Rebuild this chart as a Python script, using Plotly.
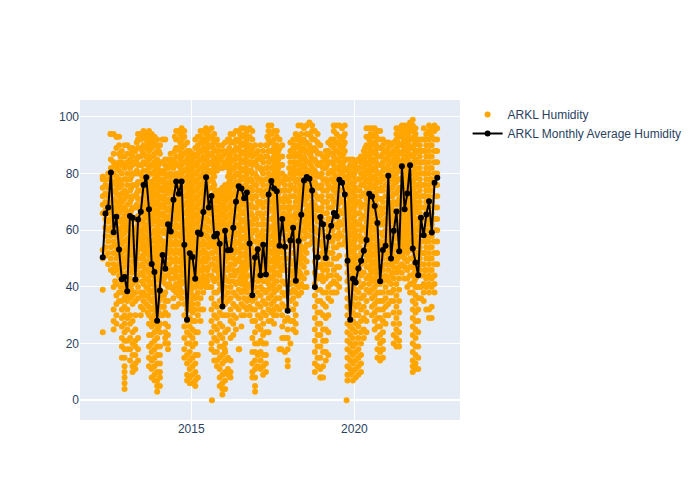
import plotly.graph_objects as go
import pandas as pd

monthly_avg = [50.5,65.9,68,80.4,59.3,64.8,53.2,42.7,43.5,38.5,65,64.4,42.6,63.8,66.5,76,78.7,67.4,48.1,45.3,28.1,38.7,51.3,46.4,62.1,59.6,70.8,77.2,72.9,77.2,54.9,28.4,51.9,50.6,42.9,59.2,58.7,66.4,78.7,68,72.1,57.8,58.8,55.2,33.1,59.8,52.9,53,60.9,70.1,75.5,74.7,71.3,73.3,55.3,37.1,50.4,53.3,44.1,54.9,44.4,72.6,77.4,74.7,73.8,54.5,64,54.2,31.6,56.4,60.9,42.2,56.2,65.5,77.6,78.8,78.2,74,40,50.5,64.7,62.1,50.2,57.6,61.6,66.1,64.9,77.8,76.8,72.6,49.2,28.4,42.9,41.6,46.5,49.2,52.8,56.6,72.9,71.9,68.6,62.6,42,53,54.5,79.2,50,59.8,66.6,52.6,82.6,67.4,73,82.9,53.6,48.6,44.1,64.4,58.2,65.6,70.2,59.2,76.8,78.5]
monthly_dates = pd.date_range("2012-04-15", periods=len(monthly_avg), freq="30.44D")

obs_dates = ["2012-04-15","2012-06-15","2012-08-15","2012-10-15","2012-12-15","2013-02-15","2013-04-15","2013-06-15","2013-08-15","2013-10-15","2013-12-15","2014-02-15","2014-04-15","2014-06-15","2014-08-15","2014-10-15","2014-12-15","2015-02-15","2015-04-15","2015-06-15","2015-08-15","2015-10-15","2015-12-15","2016-02-15","2016-04-15","2016-06-15","2016-08-15","2016-10-15","2016-12-15","2017-02-15","2017-04-15","2017-06-15","2017-08-15","2017-10-15","2017-12-15","2018-02-15","2018-04-15","2018-06-15","2018-08-15","2018-10-15","2018-12-15","2019-02-15","2019-04-15","2019-06-15","2019-08-15","2019-10-15","2019-12-15","2020-02-15","2020-04-15","2020-06-15","2020-08-15","2020-10-15","2020-12-15","2021-02-15","2021-04-15","2021-06-15","2021-08-15","2021-10-15","2021-12-15","2022-02-15","2022-04-15","2022-06-15"]
obs_values = [
[24,39,50,53,66,69,72,75,78,79],
[48,52,56,60,63,66,69,72,75,78,80],
[25,28,32,40,45,48,52,56,59,62,65,68,71,74,77,80,84,87,94],
[35,38,44,48,51,54,57,60,63,66,69,72,75,78,81,84,87,90,93],
[4,6,8,10,12,15,18,21,24,27,30,33,36,40,44,47,50,53,56,59,62,65,68,71,74,78,82,86,90],
[14,18,22,27,30,36,40,43,47,52,55,58,62,66,70,74,78,82,85,89],
[11,13,16,19,21,25,30,35,38,42,46,48,52,56,60,64,68,72,76,80,84,88],
[30,33,38,45,50,54,57,60,63,66,68,71,74,77,80,83,86,89,92,94],
[34,37,40,43,46,49,52,54,57,60,62,65,68,70,73,76,78,81,84,86,89,92,94],
[8,11,14,17,20,23,26,29,32,35,38,41,44,47,50,53,56,59,62,65,68,71,74,77,80,83,86,89,92,94],
[3,5,7,10,13,16,19,22,25,28,31,34,37,40,43,46,49,52,55,58,61,64,67,70,73,76,79,82,85,88,90,92],
[30,33,38,42,46,50,53,56,59,62,65,68,71,74,77,80,84,92],
[18,20,23,26,30,35,40,44,48,52,55,58,61,64,67,70,73,76,79,82,85],
[33,36,39,43,46,49,52,55,58,61,64,67,70,73,76,79,82,85],
[34,37,40,43,46,49,52,55,58,61,64,66,69,72,75,78,80,83,86,89,92,95],
[15,18,22,26,30,34,38,42,45,48,51,54,57,60,63,66,69,72,75,78,81,84,87,90,93,95],
[6,8,11,14,17,20,23,26,29,32,35,38,41,44,47,50,53,56,59,62,65,68,71,74,77,80,83,86,88],
[5,7,10,13,16,20,24,28,32,36,40,44,47,50,53,56,59,62,65,68,71,74,77,80,83,86,89,92],
[28,32,36,40,43,46,49,52,55,58,61,64,67,70,73,76,79,82,85,88,91,93,95],
[40,43,46,49,52,55,58,61,64,67,70,73,76,79,82,85,88,91,94,96],
[18,20,24,28,32,36,40,44,48,52,56,60,63,66,69,72,75,78,81,84,87,90,93,96],
[12,14,17,21,25,29,33,38,43,47,50,53,56,59,62,65,68,71,74,81,84,88,92],
[2,4,6,9,13,16,19,22,26,30,33,36,39,42,45,48,51,54,57,60,63,66,69,72,75,82,86,90],
[9,11,15,25,30,35,38,42,46,50,54,58,62,65,68,72,75,79,82,85,88,92],
[23,27,30,34,38,42,46,50,54,58,61,64,67,70,73,76,79,82,85,88,91,94],
[18,32,36,39,42,46,50,53,56,59,62,65,68,71,74,77,80,83,86,89,92,95],
[30,33,36,39,42,45,48,51,54,57,60,63,66,69,72,75,78,81,84,87,90,93,96],
[30,33,36,40,44,48,51,54,57,60,63,66,69,72,75,78,81,84,87,90,93,96],
[3,5,8,11,14,17,20,24,28,32,36,40,44,48,52,56,60,64,68,72,76,80,84,87,90],
[11,14,17,21,25,29,33,37,40,43,46,49,52,55,58,62,66,70,74,78,82,86,90],
[10,13,16,20,24,30,34,38,42,46,50,54,58,62,66,70,74,78,82,86,90],
[28,31,34,37,40,43,46,49,52,55,58,61,64,67,70,73,76,79,82,85,88,91,94,97],
[30,33,36,39,42,45,48,51,54,57,60,63,66,69,72,75,78,81,84,87,90,93,95],
[22,26,30,34,38,42,46,50,53,56,59,62,65,68,71,74,77,80,83,86,90],
[12,14,18,22,25,29,33,38,42,46,50,54,58,62,65,68,71,74,78],
[25,28,32,36,39,42,45,48,52,55,58,62,65,68,72,75,79,82,86,89,92],
[37,40,43,46,50,53,56,59,62,65,68,71,74,78,81,84,87,90,93,97],
[40,43,47,50,53,57,60,63,66,70,73,76,80,83,86,89,92,96],
[55,58,62,65,68,72,75,78,81,84,87,90,94,98],
[10,13,17,21,25,29,33,37,41,45,49,53,57,61,65,69,73,77,81,85,89,92,95],
[8,11,15,19,23,27,31,35,39,43,47,51,55,59,63,67,71,75,79,83,87,90],
[14,17,21,25,29,33,38,43,48,53,58,62,66,70,74,78,82,85,88],
[35,38,41,44,48,52,56,60,64,68,72,75,78,81,84,87,90,92],
[38,41,44,47,50,54,58,62,66,70,73,76,79,82,85,88,91,94,97],
[55,58,62,66,70,74,77,80,83,86,89,92,96],
[7,9,12,15,18,21,24,27,30,33,36,39,42,45,48,51,54,57,60,63,66,69,72,75,78,81,85],
[7,10,13,16,19,22,25,28,31,34,37,40,43,46,49,52,55,58,61,64,67,70,73,76,79,82,85],
[9,12,15,18,22,26,30,34,38,42,46,50,54,58,62,66,70,74,78,82,85],
[22,25,29,33,37,41,45,49,53,57,61,65,69,73,76,79,82,85,88],
[38,41,44,47,50,53,56,59,62,65,68,71,74,77,80,83,86,89,92,96],
[25,28,31,34,37,40,43,46,49,52,55,58,61,64,67,70,73,76,79,82,85,88,91,94,96],
[14,17,20,23,26,29,32,35,38,41,44,47,50,53,56,59,62,65,68,71,74,77,80,83,86,89,92,95],
[27,30,33,36,40,44,48,52,56,60,64,68,72,76,79,82,85,88,91],
[35,38,41,44,48,52,56,60,64,68,72,75,78,81,84,87,90],
[19,22,25,29,33,37,41,45,49,53,57,61,65,69,73,77,80,83,86,89,92,94,96],
[45,48,51,54,57,60,63,66,69,72,75,78,81,84,87,90,93,95,97],
[40,43,46,49,52,55,58,61,64,67,70,73,76,79,82,85,88,91,94,97],
[10,12,14,17,20,23,26,29,32,35,38,41,44,47,50,53,56,59,62,65,68,71,74,77,80,83,86,89,92,95,97,99],
[11,15,19,24,28,32,36,40,44,48,52,56,60,64,68,72,76,80,84,88,92],
[35,38,41,44,48,52,56,60,64,68,72,76,80,84,88,92,96],
[29,32,38,41,44,48,52,56,60,64,68,72,76,80,84,88,92,95,97],
[38,41,44,48,52,56,60,64,68,72,76,80,84,88,92,95,97],
]
obs2_dates = ["2012-05-15","2012-07-15","2012-09-15","2012-11-15","2013-01-15","2013-03-15","2013-05-15","2013-07-15","2013-09-15","2013-11-15","2014-01-15","2014-03-15","2014-05-15","2014-07-15","2014-09-15","2014-11-15","2015-01-15","2015-03-15","2015-05-15","2015-07-15","2015-09-15","2015-11-15","2016-01-15","2016-03-15","2016-05-15","2016-07-15","2016-09-15","2016-11-15","2017-01-15","2017-03-15","2017-05-15","2017-07-15","2017-09-15","2017-11-15","2018-01-15","2018-03-15","2018-05-15","2018-07-15","2018-09-15","2018-11-15","2019-01-15","2019-03-15","2019-05-15","2019-07-15","2019-09-15","2019-11-15","2020-01-15","2020-03-15","2020-05-15","2020-07-15","2020-09-15","2020-11-15","2021-01-15","2021-03-15","2021-05-15","2021-07-15","2021-09-15","2021-11-15","2022-01-15","2022-03-15","2022-05-15","2022-07-15"]
obs2_values = [
[51,54,58,61,64,67,70,73,76,78],
[46,50,54,58,61,64,67,70,73,76,79,82,85,94],
[27,30,34,37,41,46,50,54,58,61,64,67,70,73,76,79,82,89,93],
[15,19,22,26,29,32,35,38,42,45,49,52,55,58,61,64,67,70,73,76,80,84,88],
[18,21,25,29,32,35,38,42,45,49,51,54,57,60,63,66,69,72,76,80,84,87,90],
[10,12,16,20,24,28,34,37,41,45,49,53,56,60,64,68,72,76,80,83,86,89],
[14,18,22,36,40,44,47,50,53,56,59,62,65,68,71,74,77,80,83,86,89,92,94],
[32,35,38,41,44,47,50,53,55,58,61,64,67,69,72,75,78,81,84,87,90,93,95],
[12,15,19,23,27,30,33,36,39,42,45,48,51,54,56,59,61,64,67,69,72,75,77,80,82,85,88,90,93,95],
[7,9,12,15,18,21,24,27,30,33,36,39,42,45,48,51,54,57,60,63,66,69,72,75,78,81,84,87,90,93],
[5,8,10,13,16,19,24,27,30,33,36,39,42,45,48,51,54,57,60,63,66,69,72,75,78,81,84,87,90],
[20,22,24,27,31,35,38,41,44,47,50,53,56,59,62,65,68,71,74,77,80,83,85,92],
[40,43,46,50,53,56,59,62,65,68,71,74,77,80,83,85,87],
[33,38,41,44,47,50,53,56,59,62,65,68,71,74,77,80,83,86,89,92,95],
[36,38,41,44,47,50,53,56,59,62,65,68,71,74,77,80,83,86,89,92,95,96],
[7,9,13,16,20,24,28,32,36,40,43,46,49,52,55,58,61,64,67,70,73,76,79,82,85,88,91],
[6,9,12,15,19,22,25,28,31,34,37,40,43,46,49,52,55,58,61,64,67,70,73,76,79,82,85,87],
[8,16,24,30,34,38,42,45,48,51,54,57,60,63,66,69,72,75,78,81,84,87,90,93],
[32,38,41,44,47,50,53,56,59,62,65,68,71,74,77,80,83,86,89,92,95],
[40,44,47,50,54,57,60,63,66,69,72,75,78,81,84,87,90,93,95],
[14,17,22,26,30,34,38,42,46,50,54,58,61,64,67,70,73,76,79,82,85,88,91,94],
[5,8,11,15,19,23,27,31,35,39,41,44,47,50,53,56,59,62,65,68,71,74,82,85,88],
[4,7,10,14,17,20,24,30,34,37,40,43,46,49,52,55,58,61,64,67,70,73,76,83,87,91],
[8,10,14,22,28,32,36,40,44,48,52,56,60,63,66,69,72,75,78,81,84,87,91,94],
[25,29,33,37,41,45,49,53,56,59,62,65,68,71,74,77,80,83,86,89,92,95],
[26,30,34,38,41,44,47,51,54,57,60,63,66,69,72,75,78,81,84,87,90,93,96],
[32,35,38,41,44,47,50,53,56,59,62,65,68,71,74,77,80,83,86,89,92,95],
[8,10,13,17,22,28,32,35,39,42,46,50,53,56,59,62,65,68,71,74,77,80,83,86,89,92,95],
[12,16,20,26,30,34,38,42,46,50,54,58,62,66,70,74,78,82,85,88],
[9,12,16,20,23,27,31,35,39,42,45,48,51,54,57,60,64,68,72,76,80,84,88],
[24,28,32,36,39,41,44,47,50,53,56,60,64,68,72,76,80,84,88,92,95,97],
[27,30,32,35,38,41,44,47,50,53,56,59,62,65,68,71,74,77,80,83,86,89,92,95],
[18,32,36,40,44,47,50,53,56,59,62,65,68,71,74,77,80,83,86,89,92],
[17,22,28,33,37,41,46,50,54,58,61,64,68,72,76,79],
[20,28,35,38,41,44,48,52,55,58,62,65,68,72,76,80,84,88,91],
[24,27,30,34,38,41,44,47,50,54,58,62,66,70,74,77,80,83,86,89,92,94],
[38,41,44,48,51,54,57,60,63,66,69,72,75,78,82,85,88,91,94,97],
[40,45,49,52,55,58,61,64,67,71,74,77,80,84,88,91,94,97],
[56,60,64,67,70,73,76,79,82,85,88,92,95,97],
[12,15,19,23,27,31,35,39,43,47,51,55,59,63,67,71,75,79,83,87,91,94],
[8,12,17,21,25,30,34,38,42,46,50,54,58,62,66,70,74,78,82,86],
[16,24,30,36,40,44,48,52,56,60,64,68,72,76,80,84,88,91],
[38,42,46,50,54,58,62,66,70,74,77,80,83,86,89,92,95,97],
[40,43,47,51,55,59,63,67,71,74,78,81,84,87,90,93,97],
[56,60,64,68,72,76,79,82,85,88,91,94,97],
[9,11,14,17,20,23,26,29,32,35,38,41,44,47,50,53,56,59,62,65,68,71,74,77,80,83,85],
[8,11,14,17,20,24,27,30,33,36,39,42,45,48,51,54,57,60,63,66,69,72,75,78,81,84],
[10,13,16,20,24,28,32,36,40,44,48,52,56,60,64,68,72,76,80,84,86],
[24,28,31,35,39,43,47,51,55,59,63,67,71,75,78,81,84,87,90,93,96],
[30,33,36,39,42,45,48,51,54,57,60,63,66,69,72,75,78,81,84,87,90,93,96],
[15,18,22,26,29,32,35,38,41,44,47,50,53,56,59,62,65,68,71,74,77,80,83,86,89,92,95],
[15,18,21,24,28,32,35,38,42,46,50,54,58,62,66,70,74,78,81,84,87,90,92],
[30,34,38,42,46,50,54,58,62,66,70,74,77,80,83,86,89,91],
[20,23,27,31,35,39,43,47,51,55,59,63,67,70,73,76,79,82,85,88,91],
[19,21,24,27,31,35,39,43,47,51,55,59,63,67,71,75,78,81,84,87,90,93,96],
[43,47,50,53,56,59,62,65,68,71,74,77,80,83,86,89,92,95,97],
[38,41,44,47,50,53,56,59,62,65,68,71,74,77,80,83,86,89,92,95,98],
[11,13,16,19,22,25,28,31,34,37,40,43,46,49,52,55,58,61,64,67,70,73,76,79,82,85,88,91,94,96],
[36,40,44,48,52,56,60,64,68,72,76,80,84,88,92],
[32,40,43,46,50,54,58,62,66,70,74,78,82,86,90,94],
[29,33,40,43,46,50,54,58,62,66,70,74,78,82,86,90,93,96],
[48,52,56,60,64,68,72,76,80,84,88,92,96],
]
obs3_dates = ["2012-09-01","2012-11-01","2013-01-01","2013-03-01","2013-05-01","2013-07-01","2013-09-01","2013-11-01","2014-01-01","2014-03-01","2014-05-01","2014-07-01","2014-09-01","2014-11-01","2015-01-01","2015-03-01","2015-05-01","2015-07-01","2015-09-01","2015-11-01","2016-01-01","2016-03-01","2016-05-01","2016-07-01","2016-09-01","2016-11-01","2017-01-01","2017-03-01","2017-05-01","2017-07-01","2017-09-01","2017-11-01","2018-01-01","2018-03-01","2018-05-01","2018-07-01","2018-09-01","2018-11-01","2019-01-01","2019-03-01","2019-05-01","2019-07-01","2019-09-01","2019-11-01","2020-01-01","2020-03-01","2020-05-01","2020-07-01","2020-09-01","2020-11-01","2021-01-01","2021-03-01","2021-05-01","2021-07-01","2021-09-01","2021-11-01","2022-01-01","2022-03-01","2022-05-01"]
obs3_values = [
[42,47,52,55,60,65,68,74,77,83],
[40,43,46,51,56,59,63,68,71,77,83,86],
[37,41,44,48,53,56,61,64,67,73,78,83],
[39,46,51,55,58,63,67,71,75,79,84,87],
[42,48,52,55,58,61,64,69,73,76,81,85,91],
[37,42,45,48,51,56,59,63,66,70,74,79,83,88],
[31,37,40,43,46,49,52,55,58,62,66,71,74,79,83,86,91],
[28,32,35,38,41,44,47,50,53,56,59,64,67,70,73,76,80,83,86,91],
[26,31,35,40,44,47,50,53,56,59,62,65,68,71,74,77,80,83,88],
[33,37,43,48,52,55,60,63,66,69,72,75,78,81],
[41,45,48,52,55,58,61,64,67,70,75,79,83],
[40,45,49,52,55,58,61,64,67,70,73,76,79,84,88,93],
[39,42,46,49,52,55,58,61,64,67,70,73,76,79,82,85,88,91,94],
[34,38,42,45,48,51,54,57,60,63,66,69,72,75,78,81,84,87],
[33,36,39,42,45,48,51,54,57,60,63,66,69,72,75,78,81,84],
[37,41,44,47,50,53,56,59,62,65,68,71,74,77,80,83,86,89],
[42,46,49,52,55,58,61,64,67,70,73,76,79,82,85,88,91],
[42,46,51,55,58,61,64,67,71,74,77,80,83,86,89,92],
[43,48,52,55,59,62,65,68,72,75,77,80,83,86,89,92],
[45,49,52,55,58,61,64,67,70,73,83,86,90],
[44,47,50,53,56,59,62,65,68,71,74,84,88],
[42,47,51,54,58,62,65,68,71,74,77,80,83,86,89,92],
[44,48,52,55,58,61,64,67,70,73,76,79,82,85,88,91],
[43,46,49,52,55,58,61,64,67,70,73,76,79,82,85,88,91,94],
[40,43,46,49,52,55,58,61,64,67,70,73,76,79,82,85,88,91,94],
[44,48,51,54,57,60,63,66,69,72,75,78,81,84,88],
[44,48,52,56,60,64,68,72,76,79,83,87],
[44,47,50,53,56,59,62,65,69,73,77,81,85],
[42,46,49,52,55,58,62,66,70,74,78,82,86,90,93],
[40,43,46,49,52,55,58,61,64,67,70,73,76,79,82,85,88,91],
[45,49,52,55,58,61,64,67,70,73,76,79,82,85,88],
[48,52,56,60,63,66,70,74,78],
[46,50,54,57,60,63,67,70,74,78,82,86],
[43,46,49,52,56,60,64,68,72,75,78,81,84,87,90],
[45,49,52,55,58,61,64,67,70,73,76,80,83,86,89,92],
[54,59,62,65,69,72,75,78,82,85,88,91],
[60,63,66,69,74,77,80,83,86,89,93],
[44,48,52,56,60,64,68,72,76,80,84,88],
[44,48,52,56,60,64,68,72,76,80,84],
[46,50,54,58,62,66,70,74,77,83,86],
[52,56,60,64,68,71,75,78,81,84,87,90],
[57,61,65,69,72,75,79,82,85,88,91],
[62,66,70,74,78,81,84,87,90,93],
[43,46,49,52,55,58,61,64,67,70,73,76,79,82],
[41,44,47,50,53,56,59,62,65,68,71,74,77,80,83],
[46,50,54,58,62,66,70,74,78,82],
[49,53,57,61,65,69,73,77,80,83,86,89],
[43,46,49,52,55,58,61,64,67,70,73,76,79,82,85,88,91,94],
[42,45,48,51,54,57,60,63,66,69,72,75,78,81,84,87,90,93],
[43,47,51,55,59,63,67,71,75,79,83,86,89],
[43,48,52,56,60,64,68,72,76,79,82,85,88],
[45,49,53,57,61,65,69,72,75,78,81,84,87],
[46,50,54,58,62,66,70,74,78,82,85,88,91,94],
[52,55,58,61,64,67,70,73,76,79,82,85,88,91,94],
[54,57,60,63,66,69,72,75,78,81,84,87,90,93,96],
[42,45,48,51,54,57,60,63,66,69,72,75,78,81,84,87,90,93],
[46,50,54,58,62,66,70,74,78,82,86,90],
[46,52,56,60,64,68,72,76,80,84,88,92],
[46,50,54,58,62,66,70,74,78,82,86,90,94],
]
outlier_dates = ["2012-07-10","2012-09-20","2015-08-20","2019-10-05","2016-01-10","2016-06-20","2017-10-05","2018-12-20"]
outlier_values = [94,93,0,0,18,18,18,8]

x_obs = ([d for d, col in zip(obs_dates, obs_values) for _ in col]
         + [d for d, col in zip(obs2_dates, obs2_values) for _ in col]
         + [d for d, col in zip(obs3_dates, obs3_values) for _ in col] + outlier_dates)
y_obs = ([v for col in obs_values for v in col]
         + [v for col in obs2_values for v in col]
         + [v for col in obs3_values for v in col] + outlier_values)

fig = go.Figure()
fig.add_trace(go.Scatter(x=x_obs, y=y_obs, mode="markers", name="ARKL Humidity",
                         marker=dict(color="orange", size=6)))
fig.add_trace(go.Scatter(x=monthly_dates, y=monthly_avg, mode="lines+markers",
                         name="ARKL Monthly Average Humidity",
                         line=dict(color="black"), marker=dict(color="black", size=6)))
fig.update_layout(width=700, height=500, font=dict(family="Liberation Sans"), margin=dict(r=240))
fig.write_html("out.html", config={"displayModeBar": False},
               post_script="document.body.style.margin='0';")
